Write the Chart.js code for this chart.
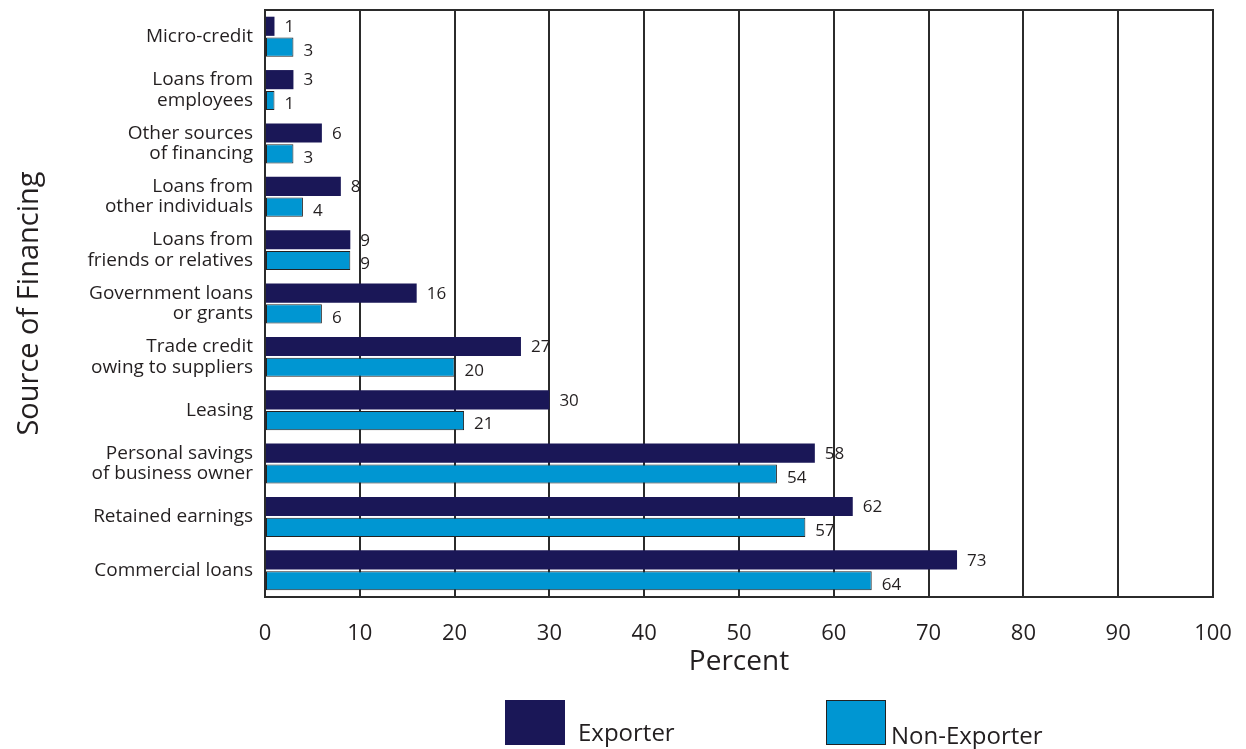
<!DOCTYPE html>
<html>
<head>
<meta charset="utf-8">
<script src="https://cdn.jsdelivr.net/npm/chart.js@4.4.1/dist/chart.umd.min.js"></script>
<style>
  html, body { margin: 0; padding: 0; background: #fff; }
  #wrap { position: relative; width: 1246px; height: 749px; }
</style>
</head>
<body>
<div id="wrap"><canvas id="chart" width="1246" height="749"></canvas></div>
<script>
// categories, top to bottom
const sources = [
  "Micro-credit",
  ["Loans from", "employees"],
  ["Other sources", "of financing"],
  ["Loans from", "other individuals"],
  ["Loans from", "friends or relatives"],
  ["Government loans", "or grants"],
  ["Trade credit", "owing to suppliers"],
  "Leasing",
  ["Personal savings", "of business owner"],
  "Retained earnings",
  "Commercial loans",
];
const exporter = [1, 3, 6, 8, 9, 16, 27, 30, 58, 62, 73];
const nonExporter = [3, 1, 3, 4, 9, 6, 20, 21, 54, 57, 64];
const seriesNames = ["Exporter", "Non-Exporter"];

const NAVY = "#1a1757";
const BLUE = "#0096d2";
const INK = "#231f20";
const LINE = "#2b2b2b";
const FONT = "'Open Sans', 'DejaVu Sans', sans-serif";

// value labels next to bar ends
const valueLabels = {
  id: "valueLabels",
  afterDatasetsDraw(chart) {
    const ctx = chart.ctx;
    ctx.save();
    ctx.font = "17px " + FONT;
    ctx.fillStyle = INK;
    ctx.textBaseline = "middle";
    ctx.textAlign = "left";
    chart.data.datasets.forEach((ds, i) => {
      chart.getDatasetMeta(i).data.forEach((bar, j) => {
        ctx.fillText(String(ds.data[j]), bar.x + 10, bar.y + (i === 0 ? 1 : 4));
      });
    });
    ctx.restore();
  }
};

// frame around plot + legend at the bottom
const frameAndLegend = {
  id: "frameAndLegend",
  afterDraw(chart) {
    const { ctx, chartArea: a } = chart;
    ctx.save();
    ctx.strokeStyle = LINE;
    ctx.lineWidth = 2;
    ctx.strokeRect(a.left, a.top, a.right - a.left, a.bottom - a.top);

    ctx.font = "24px " + FONT;
    ctx.textBaseline = "alphabetic";
    ctx.textAlign = "left";
    // Exporter
    ctx.fillStyle = NAVY;
    ctx.fillRect(505, 700, 60, 45);
    ctx.fillStyle = INK;
    ctx.fillText(seriesNames[0], 578, 741);
    // Non-Exporter
    ctx.fillStyle = BLUE;
    ctx.fillRect(826, 700, 60, 45);
    ctx.strokeStyle = "#222";
    ctx.lineWidth = 1;
    ctx.strokeRect(826.5, 700.5, 59, 44);
    ctx.fillStyle = INK;
    ctx.fillText(seriesNames[1], 891, 744);
    ctx.restore();
  }
};

new Chart(document.getElementById("chart"), {
  type: "bar",
  data: {
    labels: sources,
    datasets: [
      {
        label: seriesNames[0],
        data: exporter,
        backgroundColor: NAVY,
        borderWidth: 0,
        categoryPercentage: 0.78,
        barPercentage: 0.92,
      },
      {
        label: seriesNames[1],
        data: nonExporter,
        backgroundColor: BLUE,
        borderColor: "#222",
        borderWidth: 1,
        borderSkipped: false,
        categoryPercentage: 0.78,
        barPercentage: 0.92,
      },
    ],
  },
  options: {
    indexAxis: "y",
    responsive: false,
    animation: false,
    layout: { padding: { top: 10, right: 33, bottom: 0, left: 0 } },
    plugins: {
      legend: { display: false },
      tooltip: { enabled: false },
    },
    scales: {
      x: {
        min: 0,
        max: 100,
        ticks: {
          stepSize: 10,
          color: INK,
          font: { family: FONT, size: 22 },
          padding: 24,
        },
        grid: { color: LINE, lineWidth: 2, drawTicks: false },
        border: { color: LINE, width: 2 },
        title: {
          display: true,
          text: "Percent",
          color: INK,
          font: { family: FONT, size: 28 },
          padding: { top: 0, bottom: 70 },
        },
        afterFit(scale) {
          scale.height = 152;
          scale.paddingLeft = 0;
          scale.paddingRight = 0;
        },
      },
      y: {
        ticks: {
          color: INK,
          font: { family: FONT, size: 19, lineHeight: 1.08 },
          padding: 12,
        },
        grid: { display: false, drawTicks: false },
        border: { color: LINE, width: 2 },
        title: {
          display: true,
          text: "Source of Financing",
          color: INK,
          font: { family: FONT, size: 29 },
          padding: { top: 12, bottom: 0 },
        },
        afterFit(scale) {
          scale.width = 265;
          scale.paddingTop = 0;
          scale.paddingBottom = 0;
        },
      },
    },
  },
  plugins: [valueLabels, frameAndLegend],
});
</script>
</body>
</html>
